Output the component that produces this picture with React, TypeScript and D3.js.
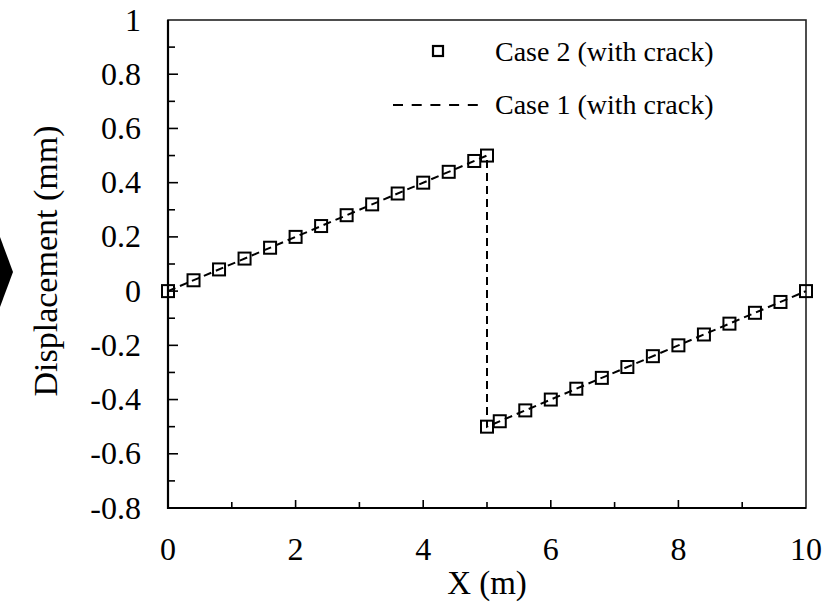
import { useEffect, useRef } from "react";
import * as d3 from "d3";

// Case 2 (with crack) - square markers
const case2X = [0, 0.4, 0.8, 1.2, 1.6, 2.0, 2.4, 2.8, 3.2, 3.6, 4.0, 4.4, 4.8, 5.0, 5.0, 5.2, 5.6, 6.0, 6.4, 6.8, 7.2, 7.6, 8.0, 8.4, 8.8, 9.2, 9.6, 10];
const case2Y = [0, 0.04, 0.08, 0.12, 0.16, 0.2, 0.24, 0.28, 0.32, 0.36, 0.4, 0.44, 0.48, 0.5, -0.5, -0.48, -0.44, -0.4, -0.36, -0.32, -0.28, -0.24, -0.2, -0.16, -0.12, -0.08, -0.04, 0];

// Case 1 (with crack) - dashed line
const case1X = [0, 5, 5, 10];
const case1Y = [0, 0.5, -0.5, 0];

const xTicks = [0, 2, 4, 6, 8, 10];
const xMinor = [1, 3, 5, 7, 9];
const yTicks = [-0.8, -0.6, -0.4, -0.2, 0, 0.2, 0.4, 0.6, 0.8, 1];
const yTickLabels = ["-0.8", "-0.6", "-0.4", "-0.2", "0", "0.2", "0.4", "0.6", "0.8", "1"];
const yMinor = [-0.7, -0.5, -0.3, -0.1, 0.1, 0.3, 0.5, 0.7, 0.9];

const legendLabels = ["Case 2 (with crack)", "Case 1 (with crack)"];

export default function App() {
  const ref = useRef<SVGSVGElement | null>(null);

  useEffect(() => {
    const width = 831;
    const height = 609;
    const margin = { top: 20, right: 25, bottom: 101, left: 168 };
    const font = "'Liberation Serif', 'Times New Roman', serif";

    const svg = d3.select(ref.current).attr("width", width).attr("height", height);
    svg.selectAll("*").remove();

    const x = d3.scaleLinear().domain([0, 10]).range([margin.left, width - margin.right]);
    const y = d3.scaleLinear().domain([-0.8, 1]).range([height - margin.bottom, margin.top]);

    svg.append("rect").attr("width", width).attr("height", height).attr("fill", "#fff");

    // black arrow at the left edge
    svg.append("path").attr("d", "M0,237 L13,272 L0,307 Z").attr("fill", "#000");

    // frame
    svg
      .append("rect")
      .attr("x", x(0))
      .attr("y", y(1))
      .attr("width", x(10) - x(0))
      .attr("height", y(-0.8) - y(1))
      .attr("fill", "none")
      .attr("stroke", "#222")
      .attr("stroke-width", 1.6);
    svg
      .append("path")
      .attr("d", `M${x(0)},${y(1)} V${y(-0.8)} H${x(10)}`)
      .attr("fill", "none")
      .attr("stroke", "#000")
      .attr("stroke-width", 2.2);

    // ticks (inward)
    const xAxis = svg.append("g").attr("transform", `translate(0,${y(-0.8)})`);
    xAxis
      .selectAll("line.major")
      .data(xTicks.slice(1, -1))
      .enter()
      .append("line")
      .attr("x1", (d) => x(d))
      .attr("x2", (d) => x(d))
      .attr("y1", 0)
      .attr("y2", -8)
      .attr("stroke", "#000")
      .attr("stroke-width", 1.6);
    xAxis
      .selectAll("line.minor")
      .data(xMinor)
      .enter()
      .append("line")
      .attr("x1", (d) => x(d))
      .attr("x2", (d) => x(d))
      .attr("y1", 0)
      .attr("y2", -6)
      .attr("stroke", "#000")
      .attr("stroke-width", 1.6);
    xAxis
      .selectAll("text")
      .data(xTicks)
      .enter()
      .append("text")
      .attr("x", (d) => x(d))
      .attr("y", 52)
      .attr("text-anchor", "middle")
      .style("font-family", font)
      .style("font-size", "32px")
      .text((d) => String(d));

    const yAxis = svg.append("g").attr("transform", `translate(${x(0)},0)`);
    yAxis
      .selectAll("line.major")
      .data(yTicks.slice(1, -1))
      .enter()
      .append("line")
      .attr("x1", 0)
      .attr("x2", 10)
      .attr("y1", (d) => y(d))
      .attr("y2", (d) => y(d))
      .attr("stroke", "#000")
      .attr("stroke-width", 1.6);
    yAxis
      .selectAll("line.minor")
      .data(yMinor)
      .enter()
      .append("line")
      .attr("x1", 0)
      .attr("x2", 7)
      .attr("y1", (d) => y(d))
      .attr("y2", (d) => y(d))
      .attr("stroke", "#000")
      .attr("stroke-width", 1.6);
    yAxis
      .selectAll("text")
      .data(yTicks)
      .enter()
      .append("text")
      .attr("x", -27)
      .attr("y", (d) => y(d))
      .attr("dy", "0.33em")
      .attr("text-anchor", "end")
      .style("font-family", font)
      .style("font-size", "32px")
      .text((_, i) => yTickLabels[i]);

    // axis titles
    svg
      .append("text")
      .attr("x", (x(0) + x(10)) / 2)
      .attr("y", 594)
      .attr("text-anchor", "middle")
      .style("font-family", font)
      .style("font-size", "33px")
      .text("X (m)");
    svg
      .append("text")
      .attr("transform", `translate(57,${(y(1) + y(-0.8)) / 2 - 3}) rotate(-90)`)
      .attr("text-anchor", "middle")
      .style("font-family", font)
      .style("font-size", "34px")
      .text("Displacement (mm)");

    // Case 1 dashed line
    const line = d3
      .line<number>()
      .x((_, i) => x(case1X[i]))
      .y((d) => y(d));
    svg
      .append("path")
      .datum(case1Y)
      .attr("d", line)
      .attr("fill", "none")
      .attr("stroke", "#000")
      .attr("stroke-width", 2)
      .attr("stroke-dasharray", "8,5");

    // Case 2 squares
    const s = 12;
    svg
      .selectAll("rect.sq")
      .data(case2Y)
      .enter()
      .append("rect")
      .attr("x", (_, i) => x(case2X[i]) - s / 2)
      .attr("y", (d) => y(d) - s / 2)
      .attr("width", s)
      .attr("height", s)
      .attr("fill", "none")
      .attr("stroke", "#000")
      .attr("stroke-width", 2);

    // legend
    svg
      .append("rect")
      .attr("x", 433)
      .attr("y", 46)
      .attr("width", 10)
      .attr("height", 10)
      .attr("fill", "none")
      .attr("stroke", "#000")
      .attr("stroke-width", 2.2);
    svg
      .append("line")
      .attr("x1", 393)
      .attr("x2", 478)
      .attr("y1", 105)
      .attr("y2", 105)
      .attr("stroke", "#000")
      .attr("stroke-width", 2)
      .attr("stroke-dasharray", "10,8.7");
    svg
      .selectAll("text.leg")
      .data(legendLabels)
      .enter()
      .append("text")
      .attr("x", 495)
      .attr("y", (_, i) => 52 + i * 53)
      .attr("dy", "0.33em")
      .style("font-family", font)
      .style("font-size", "28px")
      .text((d) => d);
  }, []);

  return <svg ref={ref} style={{ position: "absolute", left: 0, top: 0 }} />;
}
